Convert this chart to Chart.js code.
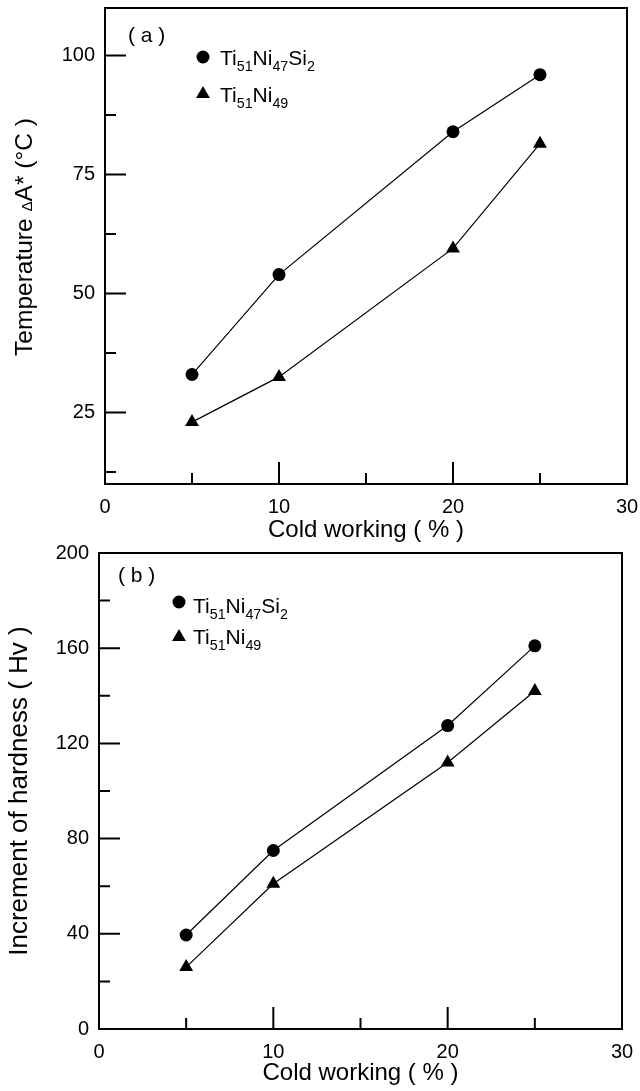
<!DOCTYPE html>
<html>
<head>
<meta charset="utf-8">
<script src="https://cdn.jsdelivr.net/npm/chart.js@4.4.0/dist/chart.umd.min.js"></script>
<style>
  html, body { margin: 0; padding: 0; background: #fff; }
  #wrap { position: relative; width: 640px; height: 1091px; }
  canvas { position: absolute; left: 0; }
  #chartA { top: 0; }
  #chartB { top: 545px; }
</style>
</head>
<body>
<div id="wrap">
  <canvas id="chartA" width="640" height="545"></canvas>
  <canvas id="chartB" width="640" height="546"></canvas>
</div>
<script>
// cold working levels (%)
const coldWorking = [5, 10, 20, 25];

// (a) shift of transformation temperature, °C
const tempSi = [33, 54, 84, 96];
const tempBin = [23, 32.5, 59.5, 81.5];

// (b) increment of hardness, Hv
const hardSi = [39.5, 75, 127.5, 161];
const hardBin = [26, 61, 112, 142];

// alloy names as [text, kind] pieces (1 = subscript)
const nameSi = [['Ti', 0], ['51', 1], ['Ni', 0], ['47', 1], ['Si', 0], ['2', 1]];
const nameBin = [['Ti', 0], ['51', 1], ['Ni', 0], ['49', 1]];

// axis ticks
const xMajor = [0, 10, 20, 30];
const xMinor = [5, 15, 25];
const tempMajor = [25, 50, 75, 100];
const tempMinor = [12.5, 37.5, 62.5, 87.5];
const hardMajor = [0, 40, 80, 120, 160, 200];
const hardMinor = [20, 60, 100, 140, 180];

const FONT = '"Liberation Sans", Arial, Helvetica, sans-serif';
Chart.defaults.font.family = FONT;
Chart.defaults.color = '#000';

// draws text made of normal / subscript / small pieces, returns its width
function richText(ctx, parts, x, y, size, measureOnly) {
  let cx = x;
  parts.forEach(function (p) {
    const kind = p[1];
    const s = kind === 1 ? size * 0.68 : kind === 2 ? size * 0.62 : size;
    ctx.font = s + 'px ' + FONT;
    if (!measureOnly) ctx.fillText(p[0], cx, kind === 1 ? y + size * 0.27 : y);
    cx += ctx.measureText(p[0]).width;
  });
  return cx - x;
}

// frame, inward ticks, panel tag, y title and legend
const decor = {
  id: 'decor',
  beforeDatasetsDraw(chart, args, o) {
    const ctx = chart.ctx;
    const a = chart.chartArea;
    const x = chart.scales.x, y = chart.scales.y;
    ctx.save();
    ctx.strokeStyle = '#000';
    ctx.lineWidth = 2;
    ctx.strokeRect(a.left, a.top, a.right - a.left, a.bottom - a.top);
    ctx.beginPath();
    function tickX(vals, len) {
      vals.forEach(function (v) {
        const p = x.getPixelForValue(v);
        ctx.moveTo(p, a.bottom); ctx.lineTo(p, a.bottom - len);
      });
    }
    function tickY(vals, len) {
      vals.forEach(function (v) {
        const p = y.getPixelForValue(v);
        ctx.moveTo(a.left, p); ctx.lineTo(a.left + len, p);
      });
    }
    tickX(o.xMajor, 22); tickX(o.xMinor, 11);
    tickY(o.yMajor, 21); tickY(o.yMinor, 11);
    ctx.stroke();

    ctx.fillStyle = '#000';
    ctx.textBaseline = 'alphabetic';
    ctx.textAlign = 'left';
    ctx.font = '21px ' + FONT;
    ctx.fillText(o.tag, o.tagX, o.tagY);

    // rotated y axis title
    ctx.save();
    ctx.translate(o.titleX, o.titleY);
    ctx.rotate(-Math.PI / 2);
    const w = richText(ctx, o.title, 0, 0, o.titleSize, true);
    richText(ctx, o.title, -w / 2, 0, o.titleSize);
    ctx.restore();

    // legend entries
    o.legend.forEach(function (item, i) {
      const ds = chart.data.datasets[i];
      ctx.fillStyle = '#000';
      Chart.helpers.drawPoint(ctx, {
        pointStyle: ds.pointStyle, radius: ds.pointRadius, borderWidth: 0, rotation: 0
      }, item.mx, item.my);
      richText(ctx, ds.nameParts, item.tx, item.ty, 21);
    });
    ctx.restore();
  }
};

function series(values, parts, style, radius) {
  return {
    label: parts.map(function (p) { return p[0]; }).join(''),
    nameParts: parts,
    data: coldWorking.map(function (c, i) { return { x: c, y: values[i] }; }),
    borderColor: '#000',
    backgroundColor: '#000',
    borderWidth: 1.2,
    pointStyle: style,
    pointRadius: radius,
    pointHoverRadius: radius,
    pointBorderWidth: 0,
    tension: 0,
    fill: false
  };
}

function makeChart(id, cfg) {
  return new Chart(document.getElementById(id), {
    type: 'line',
    data: {
      datasets: [
        series(cfg.si, nameSi, 'circle', 6.5),
        series(cfg.bin, nameBin, 'triangle', 8)
      ]
    },
    options: {
      responsive: false,
      animation: false,
      events: [],
      layout: { padding: cfg.padding },
      plugins: {
        legend: { display: false },
        tooltip: { enabled: false },
        decor: cfg.decor
      },
      scales: {
        x: {
          type: 'linear', min: 0, max: 30,
          grid: { display: false, drawTicks: false },
          border: { display: false },
          ticks: { font: { size: 20 }, color: '#000', padding: 11 },
          afterBuildTicks: function (s) { s.ticks = xMajor.map(function (v) { return { value: v }; }); },
          afterFit: function (s) { s.height = cfg.xHeight; s.paddingLeft = 0; s.paddingRight = 0; },
          title: {
            display: true, text: 'Cold working ( % )', color: '#000',
            font: { size: 24 }, padding: { top: 0, bottom: cfg.titlePad }
          }
        },
        y: {
          type: 'linear', min: cfg.yMin, max: cfg.yMax,
          grid: { display: false, drawTicks: false },
          border: { display: false },
          ticks: { font: { size: 20 }, color: '#000', padding: 10 },
          afterBuildTicks: function (s) { s.ticks = cfg.yMajor.map(function (v) { return { value: v }; }); },
          afterFit: function (s) { s.width = cfg.yWidth; s.paddingTop = 0; s.paddingBottom = 0; }
        }
      }
    },
    plugins: [decor]
  });
}

makeChart('chartA', {
  si: tempSi, bin: tempBin,
  yMin: 10, yMax: 110, yMajor: tempMajor,
  padding: { left: 0, right: 13, top: 8, bottom: 0 },
  xHeight: 61, yWidth: 105, titlePad: 0,
  decor: {
    xMajor: xMajor, xMinor: xMinor, yMajor: tempMajor, yMinor: tempMinor,
    tag: '( a )', tagX: 128, tagY: 42,
    title: [['Temperature ', 0], ['\u0394', 2], ['A* (\u00B0C )', 0]],
    titleX: 32, titleY: 237, titleSize: 24.5,
    legend: [
      { mx: 203, my: 57, tx: 220, ty: 65 },
      { mx: 203, my: 94, tx: 220, ty: 102 }
    ]
  }
});

makeChart('chartB', {
  si: hardSi, bin: hardBin,
  yMin: 0, yMax: 200, yMajor: hardMajor,
  padding: { left: 0, right: 18, top: 7, bottom: 0 },
  xHeight: 62, yWidth: 99, titlePad: 3,
  decor: {
    xMajor: xMajor, xMinor: xMinor, yMajor: hardMajor, yMinor: hardMinor,
    tag: '( b )', tagX: 118, tagY: 37,
    title: [['Increment of hardness ( Hv )', 0]],
    titleX: 27, titleY: 246, titleSize: 26,
    legend: [
      { mx: 179, my: 57, tx: 193, ty: 68 },
      { mx: 179, my: 92, tx: 193, ty: 99 }
    ]
  }
});
</script>
</body>
</html>
